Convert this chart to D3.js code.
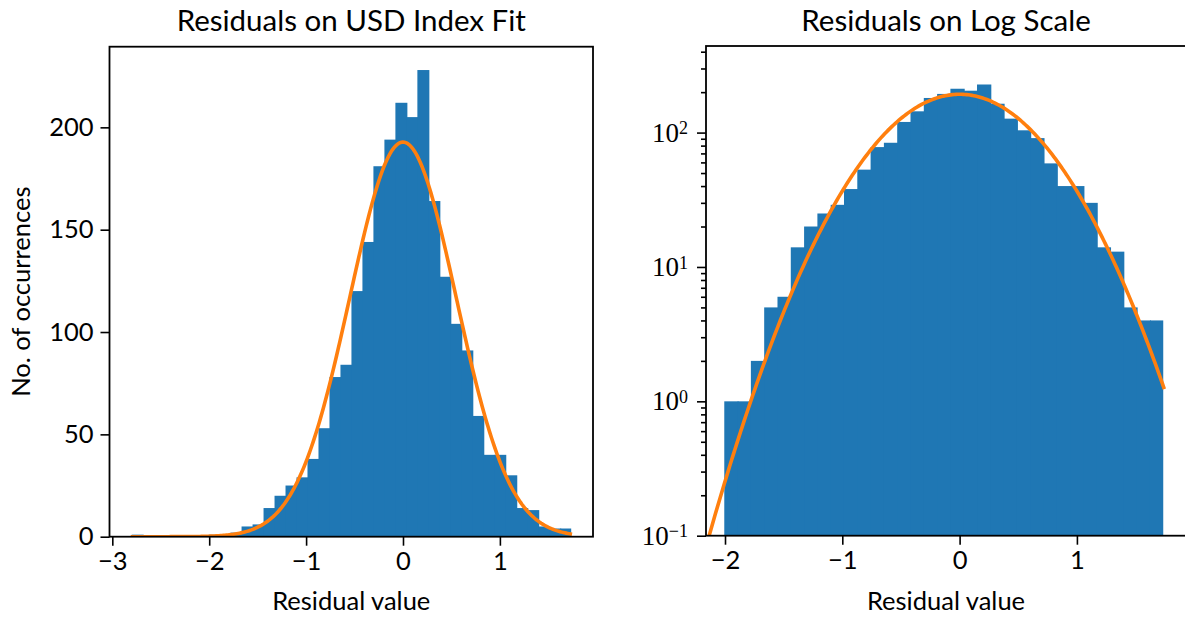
<!DOCTYPE html>
<html>
<head>
<meta charset="utf-8">
<script src="https://cdn.jsdelivr.net/npm/d3@7"></script>
<style>
  body { margin: 0; background: #fff; }
  svg { display: block; }
  .tick line { stroke: #000; stroke-width: 1.6; }
  .tick text { fill: #000; }
</style>
</head>
<body>
<svg width="1185" height="619"></svg>
<script>
"use strict";
// histogram counts, 40 equal bins starting at binStart
const binStart = -2.80;
const binWidth = 0.1134;
const counts = [1, 0, 0, 0, 0, 0, 0, 1, 1, 2, 5, 6, 14, 20, 25, 29, 38, 53, 78, 84,
    120, 144, 181, 194, 212, 205, 228, 164, 127, 104, 91, 59, 40, 40, 30, 14, 13, 5, 4, 4];
// gaussian fit: amplitude, mean, sigma
const fitParams = [192.8, 0.0, 0.549];
const fitRange = [-2.81, 1.745];
const leftXTicks = [-3, -2, -1, 0, 1];
const rightXTicks = [-2, -1, 0, 1];
const leftYTicks = [0, 50, 100, 150, 200];
const logExponents = [-1, 0, 1, 2];
const titles = ["Residuals on USD Index Fit", "Residuals on Log Scale"];

const sans = "Lato, 'DejaVu Sans', sans-serif";
const serif = "'Liberation Serif', 'DejaVu Serif', serif";
const blue = "#1f77b4";
const orange = "#ff7f0e";
const tickFont = "25.5px";

const svg = d3.select("svg");
const bins = counts.map((c, i) => ({
    x0: binStart + i * binWidth,
    x1: binStart + (i + 1) * binWidth,
    count: c
}));
const gauss = x => fitParams[0] * Math.exp(-((x - fitParams[1]) ** 2) / (2 * fitParams[2] ** 2));
const curve = d3.range(0, 301).map(i => {
    const x = fitRange[0] + (fitRange[1] - fitRange[0]) * i / 300;
    return [x, gauss(x)];
});

function panel(id, box, x, y, log) {
    const g = svg.append("g");
    g.append("clipPath").attr("id", id)
        .append("rect")
        .attr("x", box.x0).attr("y", box.y0)
        .attr("width", box.x1 - box.x0).attr("height", box.y1 - box.y0);
    const plot = g.append("g").attr("clip-path", `url(#${id})`);
    plot.selectAll("rect")
        .data(bins.filter(b => b.count > 0))
        .enter()
        .append("rect")
        .attr("x", d => x(d.x0))
        .attr("width", (d, i, n) => x(d.x1) - x(d.x0) + (i < n.length - 1 ? 1 : 0))
        .attr("y", d => y(d.count))
        .attr("height", d => box.y1 - y(d.count))
        .attr("fill", blue);
    const line = d3.line()
        .x(d => x(d[0]))
        .y(d => log ? y(Math.max(d[1], 1e-6)) : y(d[1]));
    plot.append("path")
        .datum(curve)
        .attr("d", line)
        .attr("fill", "none")
        .attr("stroke", orange)
        .attr("stroke-width", 3.6);
    g.append("rect")
        .attr("x", box.x0).attr("y", box.y0)
        .attr("width", box.x1 - box.x0).attr("height", box.y1 - box.y0)
        .attr("fill", "none")
        .attr("stroke", "#000")
        .attr("stroke-width", 1.8);
    return g;
}

// left panel
const boxL = { x0: 109.5, x1: 593, y0: 46.7, y1: 536.7 };
const xL = d3.scaleLinear().domain([-3.029, 1.961]).range([boxL.x0, boxL.x1]);
const yL = d3.scaleLinear().domain([0, 239.4]).range([boxL.y1, boxL.y0]);
const gL = panel("clipL", boxL, xL, yL, false);

gL.append("g")
    .attr("transform", `translate(0,${boxL.y1})`)
    .call(d3.axisBottom(xL).tickValues(leftXTicks).tickFormat(d3.format("d")).tickSize(9).tickPadding(6))
    .call(a => a.select(".domain").remove())
    .selectAll("text").style("font-family", sans).style("font-size", tickFont);
gL.append("g")
    .attr("transform", `translate(${boxL.x0},0)`)
    .call(d3.axisLeft(yL).tickValues(leftYTicks).tickFormat(d3.format("d")).tickSize(9).tickPadding(7))
    .call(a => a.select(".domain").remove())
    .selectAll("text").style("font-family", sans).style("font-size", tickFont);

// right panel, log scale
const boxR = { x0: 706, x1: 1186, y0: 46, y1: 535.7 };
const xR = d3.scaleLinear().domain([-2.162, 1.930]).range([boxR.x0, boxR.x1]);
const yR = d3.scaleLog().domain([0.1, 441]).range([boxR.y1, boxR.y0]);
const gR = panel("clipR", boxR, xR, yR, true);

gR.append("g")
    .attr("transform", `translate(0,${boxR.y1})`)
    .call(d3.axisBottom(xR).tickValues(rightXTicks).tickFormat(d3.format("d")).tickSize(9).tickPadding(6))
    .call(a => a.select(".domain").remove())
    .selectAll("text").style("font-family", sans).style("font-size", tickFont);

const minorTicks = [];
logExponents.forEach(e => {
    d3.range(2, 10).forEach(m => {
        const v = m * Math.pow(10, e);
        if (v <= yR.domain()[1]) minorTicks.push(v);
    });
});
gR.append("g")
    .attr("transform", `translate(${boxR.x0},0)`)
    .call(d3.axisLeft(yR).tickValues(minorTicks).tickSize(5).tickFormat(""))
    .call(a => a.select(".domain").remove());
const yAxisR = gR.append("g")
    .attr("transform", `translate(${boxR.x0},0)`)
    .call(d3.axisLeft(yR).tickValues(logExponents.map(e => Math.pow(10, e)))
        .tickSize(9).tickPadding(9).tickFormat(""))
    .call(a => a.select(".domain").remove());
yAxisR.selectAll(".tick text")
    .data(logExponents)
    .style("font-family", serif)
    .style("font-size", "27px")
    .each(function (e) {
        const t = d3.select(this);
        t.append("tspan").text("10");
        t.append("tspan")
            .attr("dy", "-0.42em")
            .style("font-size", "18px")
            .text(e < 0 ? "\u2212" + Math.abs(e) : String(e));
    });

// titles and axis labels
[[boxL, titles[0]], [boxR, titles[1]]].forEach(([b, t]) => {
    svg.append("text")
        .attr("x", (b.x0 + b.x1) / 2)
        .attr("y", 31)
        .attr("text-anchor", "middle")
        .style("font-family", sans)
        .style("font-size", "29.5px")
        .text(t);
    svg.append("text")
        .attr("x", (b.x0 + b.x1) / 2)
        .attr("y", 610)
        .attr("text-anchor", "middle")
        .style("font-family", sans)
        .style("font-size", tickFont)
        .text("Residual value");
});
svg.append("text")
    .attr("transform", `translate(30,${(boxL.y0 + boxL.y1) / 2}) rotate(-90)`)
    .attr("text-anchor", "middle")
    .style("font-family", sans)
    .style("font-size", tickFont)
    .text("No. of occurrences");
</script>
</body>
</html>
